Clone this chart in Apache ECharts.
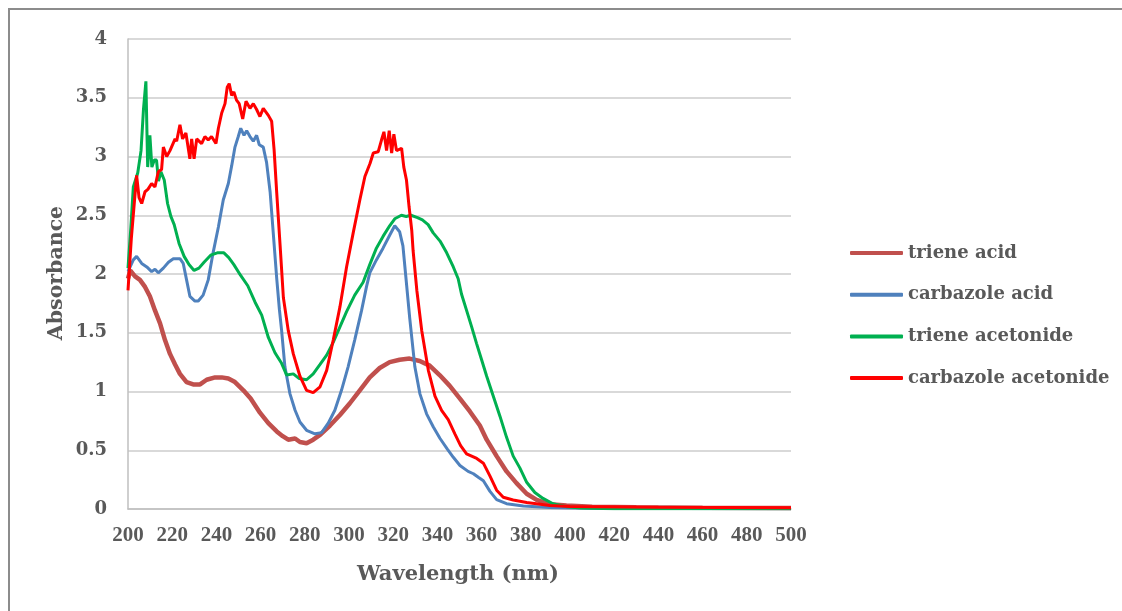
<!DOCTYPE html>
<html>
<head>
<meta charset="utf-8">
<script src="https://cdn.jsdelivr.net/npm/echarts@6/dist/echarts.min.js"></script>
<style>
  html, body { margin: 0; padding: 0; background: #ffffff; }
  #chart { width: 1122px; height: 611px; }
</style>
</head>
<body>
<div id="chart"></div>
<script>
// Absorption spectra: wavelength (nm) and absorbance for each sample
const seriesNames = ['triene acid', 'carbazole acid', 'triene acetonide', 'carbazole acetonide'];
const seriesColors = ['#C0504D', '#4F81BD', '#00B050', '#FF0000'];

const trieneAcidNm = [200, 201, 203.2, 205.4, 207.7, 209.9, 212.2, 214.5, 216.7, 219, 221.3, 223.5, 226.5, 229.5, 232.6, 235.6, 239.4, 242.4, 245.4, 248.4, 252.2, 255.5, 259.7, 263.5, 267.3, 270, 272.5, 275.6, 277.8, 280.8, 283.8, 286.9, 291.4, 295.9, 300.4, 304.9, 309.4, 313.9, 318.4, 322.9, 327.4, 332, 336.5, 341, 345.5, 350.2, 354.7, 359.2, 362.3, 366.8, 371.3, 375.8, 380.4, 384.9, 390.9, 398.4, 410, 430, 460, 500];
const trieneAcidAbs = [1.96, 2.03, 1.98, 1.95, 1.89, 1.81, 1.69, 1.58, 1.44, 1.32, 1.23, 1.15, 1.08, 1.06, 1.06, 1.10, 1.12, 1.12, 1.11, 1.08, 1.01, 0.94, 0.82, 0.73, 0.66, 0.62, 0.59, 0.60, 0.57, 0.56, 0.59, 0.63, 0.71, 0.80, 0.90, 1.01, 1.12, 1.20, 1.25, 1.27, 1.28, 1.26, 1.22, 1.14, 1.05, 0.94, 0.83, 0.71, 0.59, 0.45, 0.32, 0.22, 0.13, 0.077, 0.04, 0.03, 0.02, 0.015, 0.01, 0.008];

const carbazoleAcidNm = [200, 202.4, 203.9, 206.2, 208.5, 210.7, 212.2, 213.7, 216, 218.3, 220.5, 223.5, 225, 226.5, 228, 230.3, 231.8, 234, 236.3, 238.5, 240.9, 243.1, 245.4, 246.9, 248.4, 249.9, 251, 252.5, 253.7, 255.2, 256.7, 258.2, 259.4, 261.2, 262.7, 264.3, 265.8, 267.3, 268.5, 269.5, 271, 273.3, 275.6, 277.8, 280.8, 284.6, 287.6, 290.6, 293.6, 296.6, 299.6, 302.6, 305.7, 307.9, 309.4, 312.4, 315.4, 318.4, 320.7, 322.9, 324.4, 325.6, 327.5, 329.8, 332.1, 335.1, 338.1, 341.2, 344.5, 347.2, 350.2, 353.9, 356.3, 358.5, 360.8, 363.8, 366.8, 371.3, 378.9, 390.9, 410, 450, 500];
const carbazoleAcidAbs = [2.02, 2.12, 2.15, 2.09, 2.06, 2.02, 2.04, 2.01, 2.05, 2.10, 2.13, 2.13, 2.09, 1.95, 1.81, 1.77, 1.77, 1.82, 1.95, 2.18, 2.40, 2.63, 2.77, 2.92, 3.08, 3.17, 3.24, 3.18, 3.22, 3.17, 3.13, 3.18, 3.10, 3.08, 2.95, 2.70, 2.33, 1.96, 1.70, 1.52, 1.21, 0.98, 0.84, 0.74, 0.67, 0.64, 0.65, 0.73, 0.84, 1.01, 1.21, 1.44, 1.69, 1.89, 2.01, 2.12, 2.22, 2.33, 2.41, 2.36, 2.24, 2.00, 1.62, 1.21, 0.98, 0.81, 0.70, 0.60, 0.51, 0.44, 0.37, 0.32, 0.30, 0.27, 0.24, 0.15, 0.08, 0.045, 0.025, 0.012, 0.006, 0.004, 0.003];

const trieneAcetonideNm = [200, 201.3, 202.4, 204.4, 205.9, 207, 208.1, 208.9, 209.9, 210.8, 211.9, 212.9, 213.8, 214.9, 216.4, 217.9, 219.4, 220.9, 223.1, 225.4, 227.6, 229.9, 232.1, 234.4, 237.4, 240.4, 243.4, 245.6, 247.9, 250.9, 254.2, 257.5, 260.5, 263.5, 266.5, 269.5, 271.8, 274.8, 277.5, 280.8, 283.8, 286.9, 289.9, 292.9, 295.9, 298.9, 302.6, 306.4, 309.4, 312.4, 315.4, 318.4, 320.7, 323.7, 325.9, 328, 331, 333.2, 335.8, 338.1, 341.2, 344.2, 347.2, 349.4, 350.9, 353.2, 355.5, 357.7, 360, 362.3, 365.3, 368.3, 371.3, 374.3, 377.3, 380.3, 384.1, 387.8, 392.3, 398.4, 405, 420, 500];
const trieneAcetonideAbs = [2.05, 2.40, 2.74, 2.86, 3.05, 3.40, 3.64, 2.91, 3.18, 2.91, 2.97, 2.97, 2.79, 2.87, 2.80, 2.60, 2.49, 2.42, 2.26, 2.15, 2.08, 2.03, 2.05, 2.10, 2.16, 2.18, 2.18, 2.14, 2.08, 1.99, 1.90, 1.76, 1.65, 1.46, 1.33, 1.24, 1.14, 1.15, 1.11, 1.10, 1.15, 1.23, 1.31, 1.42, 1.55, 1.68, 1.82, 1.93, 2.08, 2.22, 2.32, 2.41, 2.47, 2.50, 2.49, 2.50, 2.48, 2.46, 2.42, 2.35, 2.28, 2.18, 2.06, 1.96, 1.83, 1.69, 1.55, 1.41, 1.27, 1.13, 0.96, 0.79, 0.61, 0.45, 0.35, 0.23, 0.14, 0.09, 0.045, 0.02, 0.008, 0.003, 0.002];

const carbazoleAcetonideNm = [200, 201.5, 203.9, 205, 206.2, 207.7, 209, 210.7, 212.2, 213.7, 215.2, 216, 217.5, 219, 221.3, 222, 223.5, 224.7, 226.2, 228, 228.8, 229.9, 231.1, 233.3, 234.8, 236.3, 237.8, 239.8, 240.9, 242.4, 243.9, 244.9, 245.8, 246.9, 247.9, 249.1, 250.3, 251.9, 253.4, 255.2, 256.7, 258.2, 259.7, 261.2, 263.5, 265, 266.1, 267.3, 268.8, 270.3, 272.5, 274.8, 277.8, 280.8, 283.8, 286.9, 289.9, 292.9, 295.9, 298.9, 301.9, 304.9, 307.2, 309.5, 311, 313.2, 314.7, 315.8, 317, 318.2, 319.3, 320.3, 321.5, 323.8, 324.8, 326, 327.2, 328.4, 329, 330.7, 332.9, 335.9, 338.9, 341.9, 344.9, 347.9, 350.5, 353.2, 357.8, 360.8, 363.8, 366.8, 369.8, 374.3, 380.4, 390.9, 400, 440, 500];
const carbazoleAcetonideAbs = [1.86, 2.30, 2.84, 2.65, 2.60, 2.70, 2.72, 2.77, 2.74, 2.87, 2.89, 3.08, 3.00, 3.05, 3.15, 3.13, 3.27, 3.15, 3.20, 2.98, 3.15, 2.98, 3.15, 3.11, 3.17, 3.14, 3.17, 3.11, 3.24, 3.37, 3.45, 3.59, 3.62, 3.52, 3.55, 3.48, 3.45, 3.32, 3.47, 3.41, 3.45, 3.40, 3.34, 3.41, 3.35, 3.30, 3.06, 2.69, 2.25, 1.80, 1.52, 1.32, 1.13, 1.01, 0.99, 1.04, 1.18, 1.44, 1.72, 2.06, 2.35, 2.63, 2.83, 2.94, 3.03, 3.04, 3.14, 3.21, 3.05, 3.22, 3.03, 3.19, 3.05, 3.07, 2.91, 2.80, 2.57, 2.37, 2.20, 1.86, 1.52, 1.18, 0.96, 0.84, 0.76, 0.64, 0.54, 0.47, 0.43, 0.39, 0.28, 0.16, 0.10, 0.077, 0.055, 0.03, 0.022, 0.015, 0.01];

const xTicks = { min: 200, max: 500, step: 20 };
const yTicks = { min: 0, max: 4, step: 0.5 };

function pairs(xs, ys) {
  return xs.map((x, i) => [x, ys[i]]);
}

const seriesData = [
  pairs(trieneAcidNm, trieneAcidAbs),
  pairs(carbazoleAcidNm, carbazoleAcidAbs),
  pairs(trieneAcetonideNm, trieneAcetonideAbs),
  pairs(carbazoleAcetonideNm, carbazoleAcetonideAbs)
];
const lineWidths = [4.5, 3, 3, 3];

const textGray = '#595959';
const chart = echarts.init(document.getElementById('chart'), null, { renderer: 'canvas' });

chart.setOption({
  animation: false,
  backgroundColor: '#ffffff',
  grid: { left: 128, top: 39, right: 331, bottom: 102, containLabel: false },
  xAxis: {
    type: 'value',
    min: xTicks.min,
    max: xTicks.max,
    interval: xTicks.step,
    axisLine: { show: true, lineStyle: { color: '#bfbfbf', width: 1.5 } },
    axisTick: { show: false },
    splitLine: { show: false },
    axisLabel: {
      color: textGray,
      fontFamily: 'Liberation Serif',
      fontWeight: 'bold',
      fontSize: 21,
      margin: 16
    }
  },
  yAxis: {
    type: 'value',
    min: yTicks.min,
    max: yTicks.max,
    interval: yTicks.step,
    axisLine: { show: true, lineStyle: { color: '#bfbfbf', width: 1.5 } },
    axisTick: { show: false },
    splitLine: { show: true, lineStyle: { color: '#d9d9d9', width: 2 } },
    axisLabel: {
      color: textGray,
      fontFamily: 'DejaVu Serif',
      fontWeight: 'bold',
      fontSize: 18,
      margin: 21
    }
  },
  legend: {
    orient: 'vertical',
    left: 845,
    top: 237,
    itemWidth: 53,
    itemHeight: 4,
    itemGap: 19.7,
    icon: 'roundRect',
    data: seriesNames,
    textStyle: {
      color: textGray,
      fontFamily: 'DejaVu Serif',
      fontWeight: 'bold',
      fontSize: 18,
      lineHeight: 22
    }
  },
  graphic: [
    {
      type: 'rect',
      shape: { x: 9, y: 9, width: 1300, height: 800 },
      style: { fill: 'none', stroke: '#8c8c8c', lineWidth: 2 },
      silent: true
    },
    {
      type: 'text',
      x: 57,
      y: 273,
      rotation: Math.PI / 2,
      style: {
        text: 'Absorbance',
        fill: textGray,
        font: 'bold 20.5px "DejaVu Serif"',
        align: 'center',
        verticalAlign: 'middle'
      }
    },
    {
      type: 'text',
      x: 458,
      y: 575,
      style: {
        text: 'Wavelength (nm)',
        fill: textGray,
        font: 'bold 21px "DejaVu Serif"',
        align: 'center',
        verticalAlign: 'middle'
      }
    }
  ],
  series: seriesNames.map((name, i) => ({
    name: name,
    type: 'line',
    data: seriesData[i],
    showSymbol: false,
    symbol: 'none',
    smooth: false,
    color: seriesColors[i],
    lineStyle: { color: seriesColors[i], width: lineWidths[i] },
    z: 2 + i
  }))
});
</script>
</body>
</html>
